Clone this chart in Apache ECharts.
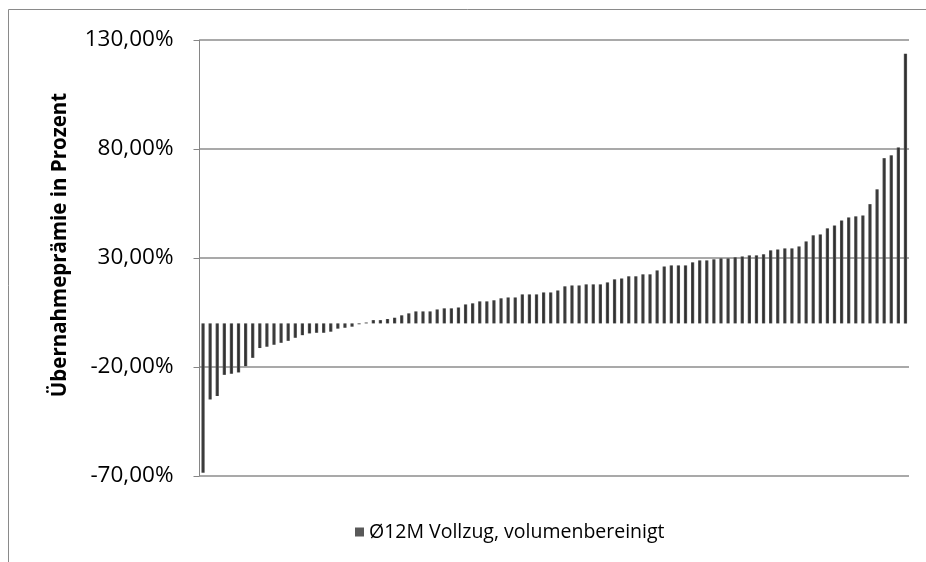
<!DOCTYPE html>
<html>
<head>
<meta charset="utf-8">
<script src="https://cdn.jsdelivr.net/npm/echarts@6/dist/echarts.min.js"></script>
<style>
  html, body { margin: 0; padding: 0; background: #ffffff; }
  #chart { width: 926px; height: 562px; }
</style>
</head>
<body>
<div id="chart"></div>
<script>
// Übernahmeprämien (Ø 12 Monate vor Vollzug, volumenbereinigt), aufsteigend sortiert, in Prozent
const premiums = [
  -68.5, -34.9, -33.3, -23.6, -23.1, -22.5, -19.6, -15.8, -11.3, -10.7,
  -9.8, -8.9, -8.0, -6.6, -5.4, -4.6, -4.3, -4.3, -3.8, -2.4,
  -2.0, -1.5, -0.4, 0.4, 1.5, 1.5, 2.0, 2.6, 3.7, 4.6,
  5.5, 5.5, 5.5, 6.4, 6.9, 6.9, 7.3, 8.7, 9.2, 10.1,
  10.1, 10.6, 11.5, 11.9, 11.9, 13.3, 13.3, 13.3, 14.2, 14.2,
  15.1, 17.0, 17.4, 17.4, 17.9, 17.9, 17.9, 18.8, 20.2, 20.6,
  21.6, 21.6, 22.5, 22.5, 24.3, 26.1, 26.6, 26.6, 26.6, 28.0,
  28.9, 28.9, 29.4, 29.8, 29.8, 30.3, 30.7, 31.2, 31.2, 31.7,
  33.5, 33.9, 34.4, 34.4, 35.3, 37.6, 40.4, 40.8, 43.6, 44.9,
  47.2, 48.6, 49.1, 49.5, 54.7, 61.5, 75.8, 77.1, 80.7, 123.7
];
const dealRank = premiums.map((_, i) => String(i + 1));
const seriesName = 'Ø12M Vollzug, volumenbereinigt';
const axisTitle = 'Übernahmeprämie in Prozent';
const yMin = -70, yMax = 130, yStep = 50;

const chart = echarts.init(document.getElementById('chart'), null, { renderer: 'canvas' });

const barFill = new echarts.graphic.LinearGradient(0, 0, 1, 0, [
  { offset: 0, color: '#5a5a5a' },
  { offset: 0.5, color: '#2e2e2e' },
  { offset: 1, color: '#5a5a5a' }
]);

chart.setOption({
  animation: false,
  backgroundColor: '#ffffff',
  textStyle: { fontFamily: '"Open Sans", "Noto Sans", sans-serif' },
  grid: { left: 199.5, right: 17, top: 40, bottom: 86, containLabel: false },
  graphic: [
    // outer frame of the chart area
    { type: 'line', shape: { x1: 8.5, y1: 9.5, x2: 8.5, y2: 562 }, style: { stroke: '#8a8a8a', lineWidth: 1 }, silent: true },
    { type: 'line', shape: { x1: 8.5, y1: 9.5, x2: 926, y2: 9.5 }, style: { stroke: '#8a8a8a', lineWidth: 1 }, silent: true },
    // rotated value-axis title
    {
      type: 'text',
      x: 60, y: 245,
      rotation: Math.PI / 2,
      style: {
        text: axisTitle,
        fill: '#000000',
        align: 'center',
        verticalAlign: 'middle',
        font: 'bold 20.5px "Open Sans", "Noto Sans", sans-serif'
      }
    }
  ],
  legend: {
    left: 350, top: 517,
    icon: 'rect', itemWidth: 9, itemHeight: 9, itemGap: 5,
    textStyle: { fontSize: 19.5, color: '#000000', fontFamily: '"Open Sans", "Noto Sans", sans-serif' },
    data: [{ name: seriesName, itemStyle: { color: '#595959' } }]
  },
  xAxis: {
    type: 'category',
    data: dealRank,
    axisLine: { show: false },
    axisTick: { show: false },
    axisLabel: { show: false },
    splitLine: { show: false }
  },
  yAxis: {
    type: 'value',
    min: yMin, max: yMax, interval: yStep,
    axisLine: { show: true, lineStyle: { color: '#868686', width: 1 } },
    axisTick: { show: true, length: 6, lineStyle: { color: '#868686', width: 1 } },
    axisLabel: {
      margin: 26,
      fontSize: 22.5,
      color: '#000000',
      fontFamily: '"Open Sans", "Noto Sans", sans-serif',
      formatter: v => v.toFixed(2).replace('.', ',') + '%'
    },
    splitLine: { show: true, lineStyle: { color: '#8c8c8c', width: 1.5 } }
  },
  series: [{
    name: seriesName,
    type: 'bar',
    data: premiums,
    barWidth: '46%',
    itemStyle: { color: barFill }
  }]
});
</script>
</body>
</html>
